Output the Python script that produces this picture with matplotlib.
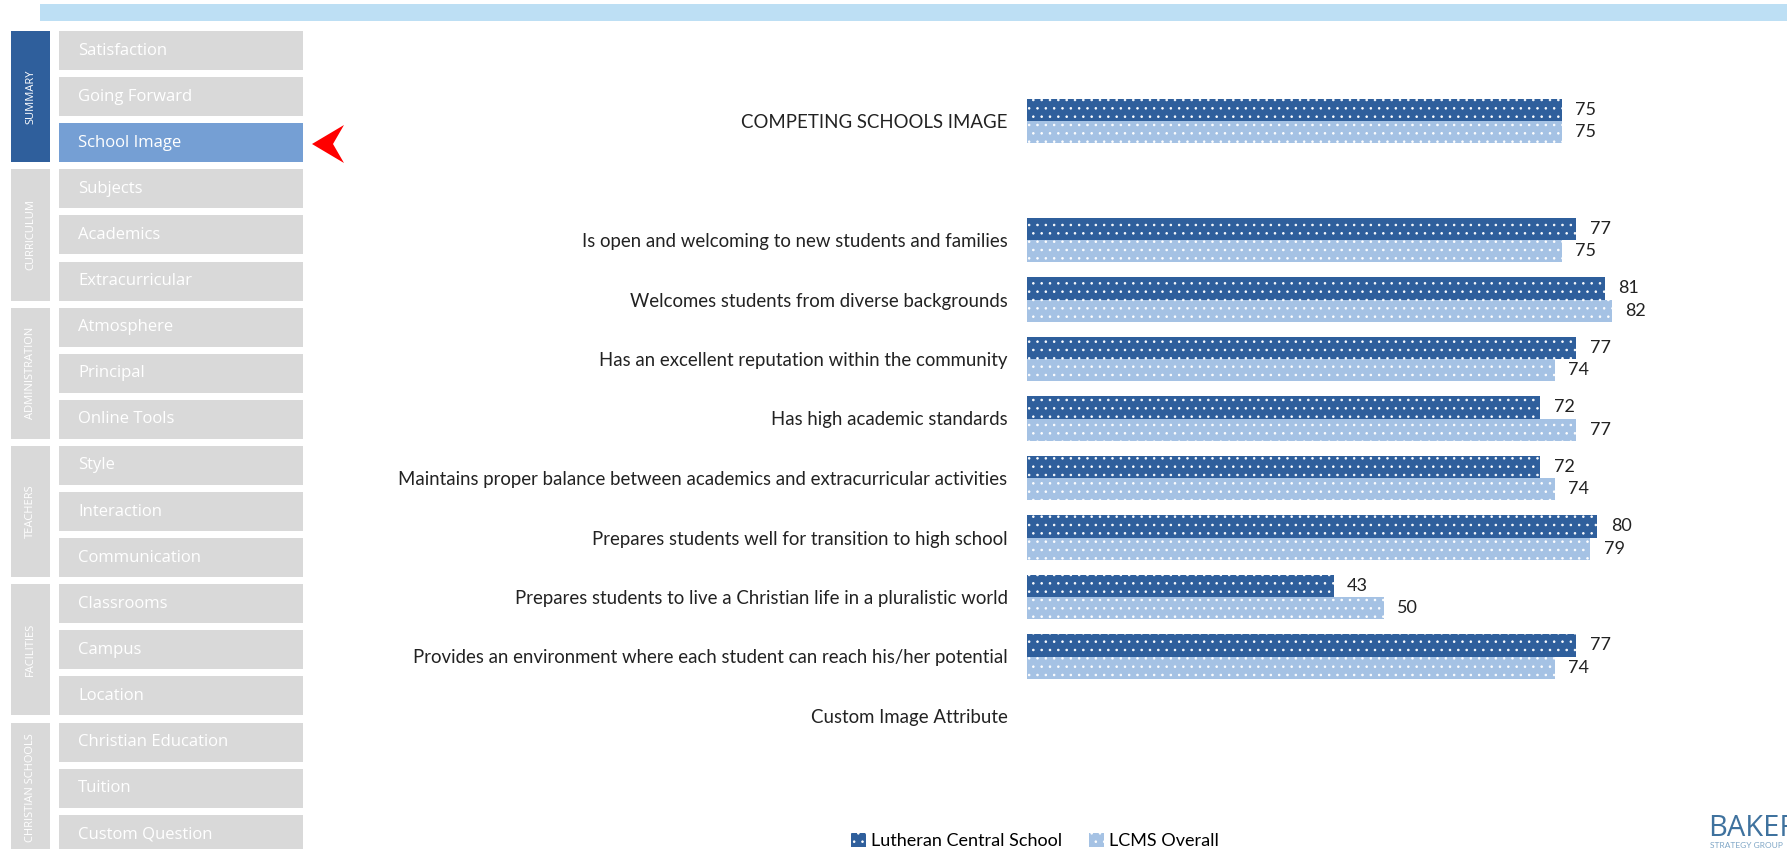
import numpy as np
import matplotlib.pyplot as plt
from matplotlib.patches import Rectangle, Polygon

plt.rcParams['font.family'] = ['Lato', 'DejaVu Sans']
plt.rcParams['hatch.linewidth'] = 0.6

# Figure size in pixels
W, H = 1787, 849

# Chart data
categories = [
    "COMPETING SCHOOLS IMAGE",
    "",
    "Is open and welcoming to new students and families",
    "Welcomes students from diverse backgrounds",
    "Has an excellent reputation within the community",
    "Has high academic standards",
    "Maintains proper balance between academics and extracurricular activities",
    "Prepares students well for transition to high school",
    "Prepares students to live a Christian life in a pluralistic world",
    "Provides an environment where each student can reach his/her potential",
    "Custom Image Attribute",
]
school = np.array([75, np.nan, 77, 81, 77, 72, 72, 80, 43, 77, np.nan])
lcms = np.array([75, np.nan, 75, 82, 74, 77, 74, 79, 50, 74, np.nan])
series_names = ["Lutheran Central School", "LCMS Overall"]

# Sidebar menu
groups = ["SUMMARY", "CURRICULUM", "ADMINISTRATION", "TEACHERS", "FACILITIES", "CHRISTIAN SCHOOLS"]
menu_items = ["Satisfaction", "Going Forward", "School Image",
              "Subjects", "Academics", "Extracurricular",
              "Atmosphere", "Principal", "Online Tools",
              "Style", "Interaction", "Communication",
              "Classrooms", "Campus", "Location",
              "Christian Education", "Tuition", "Custom Question"]
active_item = "School Image"

dark = "#2F5F9C"
light = "#A5C2E4"
gray = "#D9D9D9"

fig = plt.figure(figsize=(W / 100, H / 100), dpi=100)

# Background / decoration layer in pixel coordinates
bg = fig.add_axes([0, 0, 1, 1], zorder=0)
bg.set_xlim(0, W)
bg.set_ylim(H, 0)
bg.axis("off")

# top band
bg.add_patch(Rectangle((40, 4), W - 40, 17, color="#BDDFF4", lw=0))

# sidebar
step, box_h = 46.1, 39
for i, name in enumerate(menu_items):
    y0 = 31 + step * i
    fc = "#759FD4" if name == active_item else gray
    bg.add_patch(Rectangle((59, y0), 244, box_h, color=fc, lw=0))
    bg.text(78, y0 + box_h / 2, name, color="white", fontsize=12,
            va="center", ha="left", family=["Open Sans", "DejaVu Sans"])
for g, name in enumerate(groups):
    y0 = 31 + step * 3 * g
    y1 = 31 + step * (3 * g + 2) + box_h
    fc = dark if g == 0 else gray
    bg.add_patch(Rectangle((11, y0), 39, y1 - y0, color=fc, lw=0))
    bg.text(30.5, (y0 + y1) / 2, name, color="white", fontsize=8, rotation=90,
            va="center", ha="center", family=["Open Sans", "DejaVu Sans"])

# red pointer arrow
bg.add_patch(Polygon([(312, 144), (344, 125), (333, 144), (344, 163)],
                     closed=True, color="#FF0000", lw=0))

# logo (cut off at the right edge, as in the original slide)
bg.text(1708, 828, "BAKER", color="#3F729E", fontsize=21, va="center", ha="left",
        family=["Open Sans", "DejaVu Sans"])
bg.text(1710, 846, "STRATEGY GROUP", color="#7FA6C6", fontsize=6, va="center", ha="left")

# Main bar chart
ax_left, ax_right = 1027, 1740
ax_top, ax_bot = 91.25, 745.75
ax = fig.add_axes([ax_left / W, 1 - ax_bot / H, (ax_right - ax_left) / W, (ax_bot - ax_top) / H],
                  zorder=1)
ax.patch.set_alpha(0)

y = np.arange(len(categories))
bh = 0.378
m = ~np.isnan(school)
b1 = ax.barh(y[m] - bh / 2, school[m], height=bh, color=dark, edgecolor="white",
             lw=0, hatch="..", label=series_names[0])
b2 = ax.barh(y[m] + bh / 2, lcms[m], height=bh, color=light, edgecolor="white",
             lw=0, hatch="..", label=series_names[1])

for yy, v in zip(y[m], school[m]):
    ax.text(v + 1.9, yy - bh / 2, f"{v:.0f}", va="center", ha="left", fontsize=13, color="#222222")
for yy, v in zip(y[m], lcms[m]):
    ax.text(v + 1.9, yy + bh / 2, f"{v:.0f}", va="center", ha="left", fontsize=13, color="#222222")

ax.set_xlim(0, 100)
ax.set_ylim(len(categories) - 0.5, -0.5)
ax.set_yticks(y, categories, fontsize=13.4, color="#222222")
ax.tick_params(axis="y", length=0, pad=14)
ax.set_xticks([])
for s in ax.spines.values():
    s.set_visible(False)

fig.legend(handles=[b1, b2], loc="center", bbox_to_anchor=(1035 / W, 1 - 841 / H),
           ncol=2, frameon=False, fontsize=13, handlelength=0.8, handleheight=0.8,
           handletextpad=0.3, columnspacing=1.5)

fig.savefig("out.png", dpi=100)
